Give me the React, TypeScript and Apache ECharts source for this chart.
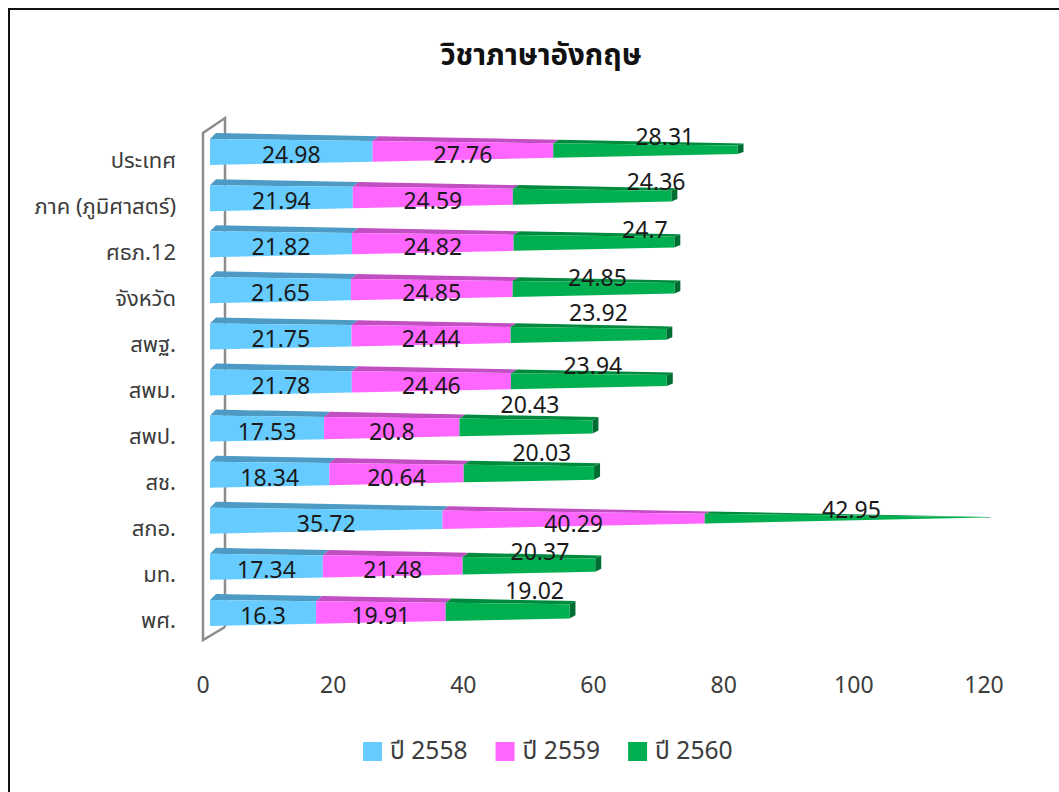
import React, { useEffect, useRef } from "react";
import * as echarts from "echarts";

const categories = ["ประเทศ", "ภาค (ภูมิศาสตร์)", "ศธภ.12", "จังหวัด", "สพฐ.", "สพม.", "สพป.", "สช.", "สกอ.", "มท.", "พศ."];
const y2558 = [24.98, 21.94, 21.82, 21.65, 21.75, 21.78, 17.53, 18.34, 35.72, 17.34, 16.3];
const y2559 = [27.76, 24.59, 24.82, 24.85, 24.44, 24.46, 20.8, 20.64, 40.29, 21.48, 19.91];
const y2560 = [28.31, 24.36, 24.7, 24.85, 23.92, 23.94, 20.43, 20.03, 42.95, 20.37, 19.02];
const tickInterval = 20;
const titleText = "วิชาภาษาอังกฤษ";

// hand-placed label nudges seen in the reference (third series only)
const lastLabelDx = [19.5, 64, 51, 4, 10, 4, 4, 13, 7, 11, 27];
const lastLabelDy = [-14, -15, -13, -11, -22, -16, -23, -21, -10, -14, -21];

const FONT = "'Noto Sans Thai', 'Noto Sans', 'Open Sans', sans-serif";
const DEPTH_X = 7;
const DEPTH_BACK = 6;
const VANISH_VALUE = 120.9;
const BAR_HEIGHT = 26;
const BAND_LIFT = 5;
const DRIFT = 3.5;

const palette = [
  { front: "#66CCFF", top: "#4D9BC4", side: "#3F84A8" },
  { front: "#FF66FF", top: "#C24FC2", side: "#A040A0" },
  { front: "#00B050", top: "#008A3E", side: "#006E32" },
];

function makeSeries(name: string, values: number[], below: number[][], idx: number, isLast: boolean) {
  const rows = values.map((v, i) => {
    const start = below.reduce((s, arr) => s + arr[i], 0);
    return [start, start + v, i, v];
  });
  return {
    name,
    type: "custom",
    coordinateSystem: "cartesian2d",
    z: 2 + idx,
    itemStyle: { color: palette[idx].front },
    encode: { x: [0, 1], y: 2 },
    data: rows,
    renderItem: (_p: any, api: any) => {
      const row = api.value(2);
      const base = api.coord([0, row]);
      const xEnd = api.coord([VANISH_VALUE, row])[0] + DEPTH_X;
      const x0 = base[0] + DEPTH_X;
      const bandY = base[1] - BAND_LIFT;
      const t = (x: number) => (xEnd - x) / (xEnd - x0);
      const mid = (x: number) => bandY - DRIFT * (1 - t(x));
      const half = (x: number) => (BAR_HEIGHT / 2) * t(x);
      const a = api.coord([api.value(0), row])[0] + DEPTH_X;
      const b = api.coord([api.value(1), row])[0] + DEPTH_X;
      const corner = (x: number, sgn: number) => [x, mid(x) + sgn * half(x)];
      const backTop = (x: number) => [x + DEPTH_BACK, mid(x) - half(x) - DEPTH_BACK * t(x)];
      const backBottom = (x: number) => [x + DEPTH_BACK, mid(x) + half(x) - DEPTH_BACK * t(x)];
      const children: any[] = [];
      children.push({
        type: "polygon",
        shape: { points: [corner(a, -1), backTop(a), backTop(b), corner(b, -1)] },
        style: { fill: palette[idx].top },
      });
      if (isLast) {
        children.push({
          type: "polygon",
          shape: { points: [corner(b, -1), backTop(b), backBottom(b), corner(b, 1)] },
          style: { fill: palette[idx].side },
        });
      }
      children.push({
        type: "polygon",
        shape: { points: [corner(a, -1), corner(b, -1), corner(b, 1), corner(a, 1)] },
        style: { fill: palette[idx].front },
      });
      const dx = isLast ? lastLabelDx[row] : 0;
      const dy = isLast ? lastLabelDy[row] : 4;
      children.push({
        type: "text",
        z2: 50,
        style: {
          text: String(api.value(3)),
          x: (a + b) / 2 + dx,
          y: bandY + dy,
          align: "center",
          verticalAlign: "middle",
          font: `23px ${FONT}`,
          fill: "#1a1a1a",
        },
      });
      return { type: "group", children };
    },
  };
}

export default function App() {
  const ref = useRef<HTMLDivElement>(null);
  useEffect(() => {
    document.body.style.margin = "0";
    document.body.style.overflow = "hidden";
    const chart = echarts.init(ref.current!, undefined, { renderer: "svg" });
    chart.setOption({
      animation: false,
      backgroundColor: "#fff",
      title: {
        text: titleText,
        left: 536,
        top: 36,
        textAlign: "center",
        textStyle: { fontFamily: FONT, fontSize: 29.5, fontWeight: "bold", color: "#111" },
      },
      grid: { left: 203, top: 134, width: 781, height: 507, containLabel: false },
      xAxis: {
        type: "value",
        min: 0,
        max: 120,
        interval: tickInterval,
        splitLine: { show: false },
        axisLine: { show: false },
        axisTick: { show: false },
        axisLabel: { margin: 33, fontFamily: FONT, fontSize: 23, color: "#3c3c3c" },
      },
      yAxis: {
        type: "category",
        inverse: true,
        data: categories,
        axisLine: { show: false },
        axisTick: { show: false },
        axisLabel: { margin: 27, fontFamily: FONT, fontSize: 22, color: "#3c3c3c", verticalAlign: "top", lineHeight: 8 },
      },
      legend: {
        left: 358,
        top: 734,
        itemWidth: 19,
        itemHeight: 19,
        itemGap: 28,
        icon: "rect",
        data: ["ปี 2558", "ปี 2559", "ปี 2560"],
        textStyle: { fontFamily: FONT, fontSize: 24.6, color: "#3c3c3c", padding: [6, 0, 0, 3] },
      },
      graphic: [
        {
          type: "rect",
          z: 0,
          shape: { x: 9, y: 9, width: 1200, height: 1000 },
          style: { fill: "none", stroke: "#111", lineWidth: 2 },
        },
        {
          type: "polyline",
          z: 0,
          shape: { points: [[225, 627], [225, 118], [203, 133], [203, 640], [225, 627]] },
          style: { fill: "none", stroke: "#8c8c8c", lineWidth: 2.5 },
        },
      ],
      series: [
        makeSeries("ปี 2558", y2558, [], 0, false),
        makeSeries("ปี 2559", y2559, [y2558], 1, false),
        makeSeries("ปี 2560", y2560, [y2558, y2559], 2, true),
      ],
    });
    return () => chart.dispose();
  }, []);
  return <div ref={ref} style={{ position: "absolute", left: 0, top: 0, width: 1059, height: 792 }} />;
}
